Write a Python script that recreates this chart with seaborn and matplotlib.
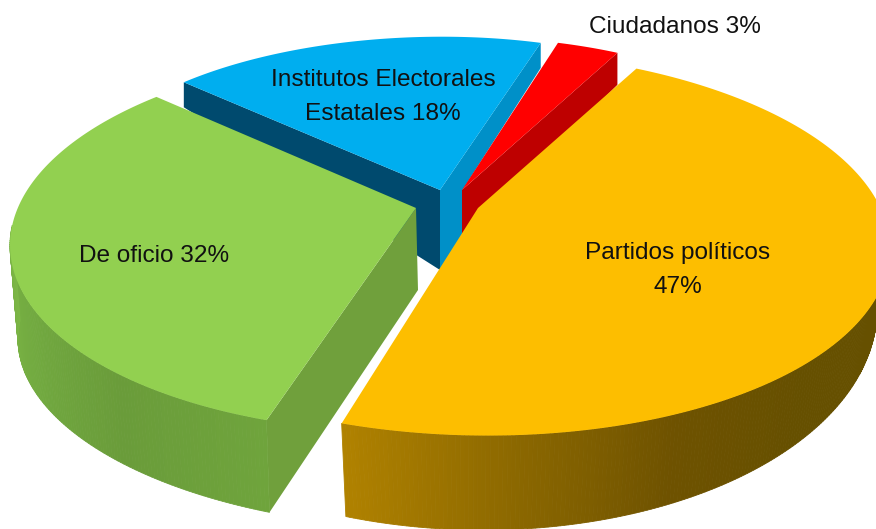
import numpy as np
import matplotlib
matplotlib.use("Agg")
import matplotlib.pyplot as plt
import seaborn as sns

# Values
slices = ["Partidos políticos", "De oficio", "Institutos Electorales", "Ciudadanos"]
shares = [47, 32, 18, 3]
label_text = ["Partidos políticos\n47%", "De oficio 32%", "Institutos Electorales\nEstatales 18%", "Ciudadanos 3%"]

# Layout of each exploded slice, in pixels of the 876x529 canvas
start_angle = [67.2, -111.6, 134.0, 73.6]
warp = [1.041, 1.03, 1.0, 1.0]  # perspective stretches the sweep a little
apex = [(478, 208), (416, 208), (440, 190), (462, 190)]
rim_top = [(476, 243.5, 414, 192, 5.4), (416, 241, 406, 191, -4.3), (420, 176, 340, 139, -9), (462, 180, 340, 143, 0)]
rim_bottom = [(476, 305, 401, 225, 4), (416, 347, 398, 181, 8), (420, 201, 340, 139, -9), (462, 212, 340, 143, 0)]
label_pos = [(678, 270), (154, 256), (383, 97), (675, 27)]

top_colors = ["#FDBE00", "#92D050", "#00AEEF", "#FF0000"]
cut_colors = ["#9A7000", "#70A03C", "#004A6E", "#BE0000"]
side_color = "#0090C8"


def rim_point(ell, t):
    cx, cy, a, b, s = ell
    t = np.radians(t)
    return np.c_[cx + a * np.cos(t), cy - b * np.sin(t) + s * np.cos(t)]


def wall_band(ax, top, bottom, angles, palette):
    p_top = rim_point(top, angles)
    p_bot = rim_point(bottom, angles)
    for i in range(len(angles) - 1):
        quad = np.vstack([p_top[i], p_top[i + 1], p_bot[i + 1], p_bot[i]])
        ax.fill(quad[:, 0], quad[:, 1], color=palette[i], lw=0.6)


def draw_slice(ax, i):
    sweep = shares[i] * 3.6 * warp[i]
    angles = np.linspace(start_angle[i], start_angle[i] - sweep, 160)
    top = rim_point(rim_top[i], angles)
    bot = rim_point(rim_bottom[i], angles)
    ax_, ay_ = apex[i]

    if i == 2:
        # dark left cut face and the lighter right one
        ax.fill([top[0, 0], bot[0, 0], ax_, ax_], [top[0, 1], bot[0, 1], ay_ + 80, ay_], color=cut_colors[i], lw=0)
        ax.fill([top[-1, 0], bot[-1, 0], ax_ + 22.5, ax_ + 22.5, ax_, ax_],
                [top[-1, 1], bot[-1, 1], ay_, ay_ + 50, ay_ + 80, ay_], color=side_color, lw=0)
    elif i == 3:
        ax.fill([top[-1, 0], bot[-1, 0], ax_, ax_], [top[-1, 1], bot[-1, 1], ay_ + 50, ay_], color=cut_colors[i], lw=0)
    elif i == 1:
        # cut face towards the yellow slice
        ax.fill([top[0, 0], bot[0, 0], ax_ + 2, ax_], [top[0, 1], bot[0, 1], ay_ + 82, ay_], color=cut_colors[i], lw=0)
        wall_t = np.linspace(start_angle[i], -186, 120)
        pal = sns.blend_palette(["#6FA43C", "#6A9C3A", "#72AA40", "#7CB646"], len(wall_t))
        wall_band(ax, rim_top[i], rim_bottom[i], wall_t, pal)
    elif i == 0:
        wall_t = np.linspace(start_angle[i] - sweep, 10, 200)
        pal = sns.blend_palette(["#B08200", "#8C6800", "#6E5200", "#665000", "#665000", "#665000"], len(wall_t))
        wall_band(ax, rim_top[i], rim_bottom[i], wall_t, pal)

    ax.fill(np.r_[ax_, top[:, 0]], np.r_[ay_, top[:, 1]], color=top_colors[i], lw=0)


sns.set_theme(style="white")
plt.rcParams["font.family"] = ["Liberation Sans"]

fig, ax = plt.subplots(figsize=(8.76, 5.29), dpi=100)
fig.subplots_adjust(0, 0, 1, 1)
ax.set_xlim(0, 876)
ax.set_ylim(529, 0)
ax.axis("off")
sns.despine(ax=ax, left=True, bottom=True)

# back slices first so the front ones overlap them
for i in [2, 3, 1, 0]:
    draw_slice(ax, i)

for text, (x, y) in zip(label_text, label_pos):
    ax.text(x, y, text, ha="center", va="center", fontsize=17.6, color="#111111", linespacing=1.66)

fig.savefig("out.png", dpi=100)
